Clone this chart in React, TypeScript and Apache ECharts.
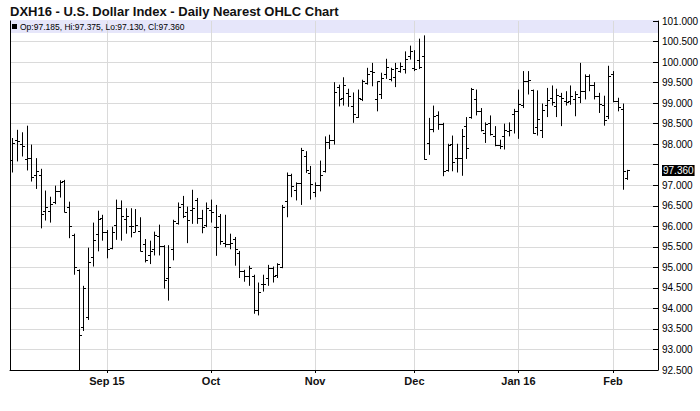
import React, { useEffect, useRef } from 'react';
import * as echarts from 'echarts';

const TITLE = 'DXH16 - U.S. Dollar Index - Daily Nearest OHLC Chart';
const LEGEND_TEXT = 'Op:97.185, Hi:97.375, Lo:97.130, Cl:97.360';
const LAST_CLOSE = 97.36;

// trading-day axis: weekdays from the first bar to a few empty days after the last one
const FIRST_DAY = '2015-08-04';
const LAST_AXIS_DAY = '2016-02-12';
const HOLIDAYS = ['2015-12-25', '2016-01-01'];

const MONTH_LABELS: Record<string, string> = {
  '2015-09-01': 'Sep 15',
  '2015-10-01': 'Oct',
  '2015-11-02': 'Nov',
  '2015-12-01': 'Dec',
  '2016-01-04': 'Jan 16',
  '2016-02-01': 'Feb',
};

const Y_MIN = 92.5;
const Y_MAX = 101;
const Y_STEP = 0.5;

const OPEN = [
  97.62, 98.11, 98.0, 97.64, 97.66, 97.25, 97.26, 96.38, 96.38, 96.58,
  96.87, 97.1, 96.47, 95.8, 94.94, 93.55, 93.78, 95.24, 95.82, 96.2,
  95.85, 95.46, 96.04, 96.44, 96.18, 96.01, 95.86, 95.88, 95.56, 95.29,
  95.44, 95.77, 95.53, 94.75, 95.44, 96.09, 96.55, 96.36, 96.39, 96.65,
  96.2, 96.04, 96.4, 95.98, 96.25, 95.59, 95.57, 95.69, 95.36, 94.92,
  94.79, 94.79, 93.96, 94.59, 94.74, 94.98, 94.82, 95.0, 96.61, 97.26,
  96.89, 97.05, 97.72, 97.31, 96.83, 97.01, 97.34, 98.05, 98.09, 99.39,
  99.13, 99.25, 98.92, 98.66, 99.1, 99.49, 99.78, 99.09, 99.21, 99.72,
  99.59, 99.64, 99.78, 99.83, 100.14, 99.86, 100.06, 100.14, 98.03, 98.37,
  98.7, 98.48, 97.36, 98.0, 97.66, 97.67, 98.44, 98.66, 99.09, 98.8,
  98.27, 98.52, 98.21, 97.99, 98.21, 98.31, 98.74, 98.8, 98.96, 99.53,
  99.31, 98.42, 98.35, 98.96, 99.13, 98.94, 99.17, 99.04, 99.04, 99.09,
  99.15, 99.29, 99.65, 99.43, 99.17, 98.96, 98.68, 99.7, 99.04, 98.86,
  97.185,
];
const HIGH = [
  98.15, 98.35, 98.29, 98.45, 97.99, 97.66, 97.4, 96.87, 96.72, 96.99,
  97.12, 97.13, 96.6, 95.82, 94.95, 94.55, 95.48, 96.09, 96.38, 96.28,
  95.91, 95.99, 96.65, 96.63, 96.44, 96.44, 96.42, 96.22, 95.69, 95.65,
  95.87, 96.04, 95.54, 95.54, 96.16, 96.58, 96.74, 96.48, 96.89, 96.69,
  96.4, 96.58, 96.65, 96.52, 96.3, 96.28, 95.82, 95.74, 95.4, 94.94,
  95.04, 94.82, 94.63, 94.82, 95.06, 95.02, 95.1, 96.52, 97.31, 97.28,
  97.07, 97.91, 97.83, 97.47, 97.07, 97.6, 98.19, 98.23, 99.51, 99.45,
  99.63, 99.35, 99.26, 99.33, 99.57, 99.86, 99.98, 99.53, 99.74, 100.08,
  99.86, 99.98, 99.99, 100.26, 100.4, 100.29, 100.57, 100.65, 98.64, 98.94,
  98.8, 98.52, 98.01, 98.21, 98.01, 98.37, 98.66, 99.37, 99.33, 98.88,
  98.53, 98.7, 98.44, 98.11, 98.5, 98.53, 98.86, 99.33, 99.78, 99.78,
  99.33, 99.31, 98.99, 99.37, 99.43, 99.35, 99.25, 99.29, 99.43, 99.29,
  99.98, 99.7, 99.7, 99.51, 99.25, 99.18, 99.91, 99.78, 99.13, 98.99,
  97.375,
];
const LOW = [
  97.31, 97.58, 97.7, 97.36, 97.09, 96.91, 95.95, 96.14, 96.09, 96.54,
  96.7, 96.34, 95.71, 94.82, 92.4, 93.45, 93.72, 95.02, 95.39, 95.65,
  95.22, 95.44, 95.67, 95.65, 95.82, 95.73, 95.86, 95.39, 95.12, 95.08,
  95.29, 95.29, 94.48, 94.19, 95.17, 96.04, 96.2, 95.59, 96.06, 96.06,
  95.83, 95.98, 96.09, 95.28, 95.55, 95.49, 95.44, 95.04, 94.74, 94.65,
  94.55, 93.87, 93.83, 94.41, 94.55, 94.63, 94.74, 94.98, 96.22, 96.71,
  96.63, 96.52, 97.3, 96.65, 96.71, 96.85, 97.31, 97.88, 97.99, 98.92,
  98.94, 98.91, 98.52, 98.64, 99.05, 99.45, 99.41, 98.8, 99.1, 99.59,
  99.53, 99.39, 99.74, 99.72, 100.06, 99.78, 99.83, 97.62, 97.74, 98.29,
  98.35, 97.22, 97.33, 97.34, 97.31, 97.23, 97.64, 98.62, 98.7, 98.31,
  98.03, 98.21, 97.95, 97.88, 97.87, 98.19, 98.26, 98.13, 98.88, 99.21,
  98.25, 98.21, 98.15, 98.66, 98.94, 98.66, 98.44, 98.94, 98.96, 98.68,
  99.0, 99.09, 99.29, 99.09, 98.76, 98.45, 98.61, 99.02, 98.8, 96.89,
  97.13,
];
const CLOSE = [
  98.04, 98.08, 97.95, 97.66, 97.21, 97.35, 96.3, 96.47, 96.55, 96.85,
  97.08, 96.36, 96.01, 95.02, 93.35, 94.5, 95.12, 95.67, 96.17, 95.87,
  95.45, 95.86, 96.44, 96.24, 96.24, 96.01, 96.04, 95.41, 95.17, 95.41,
  95.79, 95.53, 94.69, 95.0, 96.12, 96.47, 96.24, 96.16, 96.44, 96.2,
  95.99, 96.44, 96.36, 95.99, 95.65, 95.57, 95.59, 95.44, 94.9, 94.78,
  94.98, 93.96, 94.41, 94.59, 94.98, 94.78, 95.09, 96.47, 97.26, 96.97,
  97.05, 97.85, 97.36, 97.04, 97.01, 97.26, 98.05, 98.09, 99.27, 99.1,
  99.43, 99.18, 98.74, 99.13, 99.55, 99.72, 99.75, 99.53, 99.61, 99.88,
  99.82, 99.86, 99.91, 100.08, 100.26, 99.83, 99.88, 97.64, 98.37, 98.68,
  98.5, 97.34, 97.99, 97.56, 97.67, 98.21, 97.91, 99.35, 98.8, 98.35,
  98.5, 98.26, 97.99, 97.95, 98.35, 98.35, 98.8, 98.99, 99.53, 99.56,
  98.27, 98.61, 98.83, 99.07, 99.02, 99.2, 99.13, 99.02, 99.17, 99.23,
  99.29, 99.67, 99.43, 99.17, 98.99, 98.58, 99.67, 99.04, 98.91, 97.34,
  97.36,
];

function buildTradingDays(): string[] {
  const out: string[] = [];
  const d = new Date(FIRST_DAY + 'T00:00:00Z');
  const end = new Date(LAST_AXIS_DAY + 'T00:00:00Z');
  while (d.getTime() <= end.getTime()) {
    const wd = d.getUTCDay();
    const s = d.toISOString().slice(0, 10);
    if (wd !== 0 && wd !== 6 && HOLIDAYS.indexOf(s) < 0) out.push(s);
    d.setUTCDate(d.getUTCDate() + 1);
  }
  return out;
}

const FONT = 'Liberation Sans, Arial, Helvetica, sans-serif';
const GRID = { left: 10, right: 42, top: 21, bottom: 41 };

export default function App() {
  const ref = useRef<HTMLDivElement>(null);

  useEffect(() => {
    if (!ref.current) return;
    const chart = echarts.init(ref.current, undefined, { renderer: 'svg' });
    const days = buildTradingDays();
    const data = OPEN.map((o, i) => [i, o, HIGH[i], LOW[i], CLOSE[i]]);
    const isMonthStart = (_i: number, v: string) => !!MONTH_LABELS[v];

    const option: any = {
      animation: false,
      backgroundColor: '#fff',
      title: {
        text: TITLE,
        left: 10,
        top: 5,
        padding: 0,
        textStyle: { fontFamily: FONT, fontSize: 13, fontWeight: 'bold', color: '#111' },
      },
      grid: { ...GRID, containLabel: false, outerBoundsMode: 'none' },
      xAxis: {
        type: 'category',
        data: days,
        boundaryGap: true,
        axisLine: { show: true, lineStyle: { color: '#000', width: 1 } },
        axisTick: { show: true, interval: isMonthStart, alignWithLabel: true, length: 3, lineStyle: { color: '#000' } },
        axisLabel: {
          interval: isMonthStart,
          formatter: (v: string) => MONTH_LABELS[v] || '',
          fontFamily: FONT,
          fontSize: 11,
          fontWeight: 'bold',
          color: '#111',
          margin: 5,
        },
        splitLine: { show: true, interval: isMonthStart, alignWithLabel: true, lineStyle: { color: '#dadada', width: 1 } },
      },
      yAxis: [
        {
          type: 'value',
          position: 'right',
          min: Y_MIN,
          max: Y_MAX,
          interval: Y_STEP,
          axisLine: { show: true, lineStyle: { color: '#000', width: 1 } },
          axisTick: { show: true, inside: true, length: 5, lineStyle: { color: '#000' } },
          axisLabel: {
            fontFamily: FONT,
            fontSize: 10,
            color: '#000',
            margin: 4,
            formatter: (v: number) => (v > LAST_CLOSE && v - LAST_CLOSE < Y_STEP / 2 ? '' : v.toFixed(3)),
          },
          splitLine: { show: true, showMaxLine: false, lineStyle: { color: '#dadada', width: 1 } },
        },
        {
          type: 'value',
          position: 'left',
          min: Y_MIN,
          max: Y_MAX,
          interval: Y_STEP,
          axisLine: { show: true, lineStyle: { color: '#000', width: 1 } },
          axisTick: { show: false },
          axisLabel: { show: false },
          splitLine: { show: false },
        },
      ],
      graphic: [
        {
          type: 'rect',
          left: GRID.left,
          top: 20,
          z: -10,
          silent: true,
          shape: { width: 700 - GRID.left - GRID.right, height: 13 },
          style: { fill: '#e6e6fa' },
        },
        {
          type: 'rect',
          left: 12,
          top: 24,
          z: 100,
          silent: true,
          shape: { width: 5, height: 5 },
          style: { fill: '#000' },
        },
        {
          type: 'text',
          left: 20,
          top: 22,
          z: 100,
          silent: true,
          style: { text: LEGEND_TEXT, fontFamily: FONT, fontSize: 8.5, fill: '#000' },
        },
      ],
      series: [
        {
          type: 'custom',
          data,
          encode: { x: 0, y: [1, 2, 3, 4] },
          clip: true,
          renderItem: (_params: any, api: any) => {
            const i = api.value(0);
            const po = api.coord([i, api.value(1)]);
            const ph = api.coord([i, api.value(2)]);
            const pl = api.coord([i, api.value(3)]);
            const pc = api.coord([i, api.value(4)]);
            const x = Math.round(po[0]) + 0.5;
            const snap = (y: number) => Math.round(y) + 0.5;
            const style = { stroke: '#000', lineWidth: 1 };
            return {
              type: 'group',
              children: [
                { type: 'line', shape: { x1: x, y1: ph[1], x2: x, y2: pl[1] }, style },
                { type: 'line', shape: { x1: x - 2.5, y1: snap(po[1]), x2: x, y2: snap(po[1]) }, style },
                { type: 'line', shape: { x1: x, y1: snap(pc[1]), x2: x + 2.5, y2: snap(pc[1]) }, style },
              ],
            };
          },
          markLine: {
            silent: true,
            symbol: 'none',
            animation: false,
            lineStyle: { color: 'rgba(0,0,0,0)', width: 1, type: 'solid' },
            emphasis: { disabled: true },
            data: [{ yAxis: LAST_CLOSE }],
            label: {
              show: true,
              position: 'end',
              distance: 4,
              formatter: LAST_CLOSE.toFixed(3),
              fontFamily: FONT,
              fontSize: 10,
              color: '#fff',
              backgroundColor: '#000',
              padding: [1, 1, 0, 1],
            },
          },
        },
      ],
    };

    chart.setOption(option);
    return () => chart.dispose();
  }, []);

  return (
    <div
      ref={ref}
      style={{ position: 'absolute', left: 0, top: 0, width: 700, height: 411, background: '#fff' }}
    />
  );
}
